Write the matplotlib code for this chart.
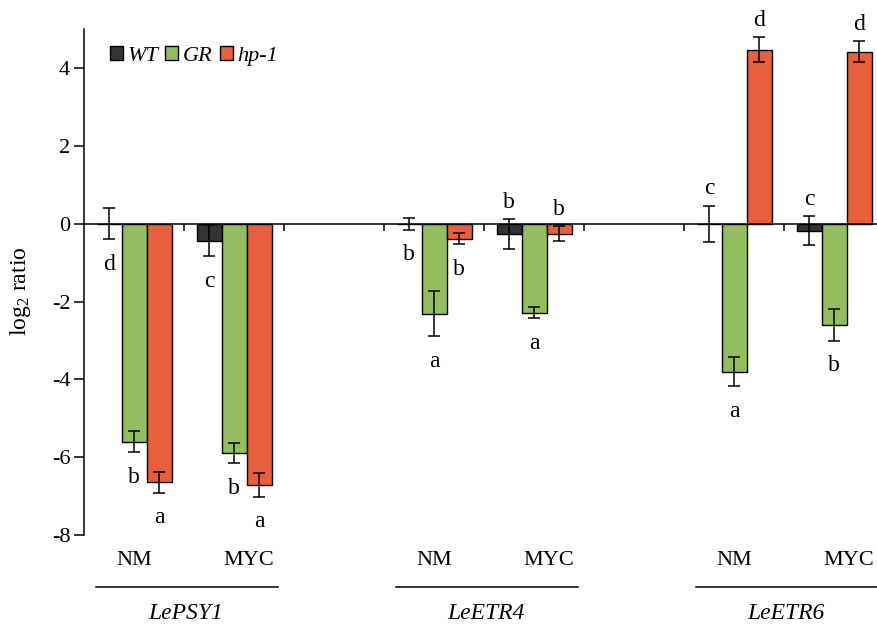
import matplotlib
matplotlib.use('Agg')
import matplotlib.pyplot as plt
import numpy as np

plt.rcParams['font.family'] = ['Liberation Serif', 'DejaVu Serif']
plt.rcParams['mathtext.fontset'] = 'custom'
plt.rcParams['mathtext.rm'] = 'Liberation Serif'
plt.rcParams['mathtext.it'] = 'Liberation Serif:italic'
plt.rcParams['axes.unicode_minus'] = False

# one slot per gene/treatment pair, empty slots separate the genes
genes = ['LePSY1', 'LeETR4', 'LeETR6']
treatments = ['NM', 'MYC']
genotypes = ['WT', 'GR', 'hp-1']

# log2 ratios, cols = LePSY1 NM/MYC, LeETR4 NM/MYC, LeETR6 NM/MYC
wt_mean = [0.0, -0.44, 0.0, -0.26, 0.0, -0.18]
gr_mean = [-5.6, -5.89, -2.31, -2.29, -3.8, -2.6]
hp1_mean = [-6.64, -6.71, -0.38, -0.25, 4.47, 4.42]

wt_err = [0.40, 0.40, 0.15, 0.38, 0.47, 0.37]
gr_err = [0.27, 0.26, 0.58, 0.14, 0.37, 0.40]
hp1_err = [0.27, 0.31, 0.15, 0.20, 0.32, 0.27]

wt_letters = ['d', 'c', 'b', 'b', 'c', 'c']
gr_letters = ['b', 'b', 'a', 'a', 'a', 'b']
hp1_letters = ['a', 'a', 'b', 'b', 'd', 'd']

# letter goes above the error bar (True) or below it (False)
wt_above = [False, False, False, True, True, True]
gr_above = [False, False, False, False, False, False]
hp1_above = [False, False, False, True, True, True]

colors = ['#333333', '#93bd5f', '#e85f3d']

slots = np.array([0.5, 1.5, 3.5, 4.5, 6.5, 7.5])
width = 0.25

fig = plt.figure(figsize=(8.77, 6.27), dpi=100)
ax = fig.add_axes([0.0958, 0.1467, 0.9042, 0.8066])

means = [wt_mean, gr_mean, hp1_mean]
errs = [wt_err, gr_err, hp1_err]
letters = [wt_letters, gr_letters, hp1_letters]
above = [wt_above, gr_above, hp1_above]

handles = []
for k in range(3):
    xs = slots + (k - 1) * width
    b = ax.bar(xs, means[k], width, color=colors[k], edgecolor='black', linewidth=1.0, zorder=2)
    handles.append(b)
    ax.errorbar(xs, means[k], yerr=errs[k], fmt='none', ecolor='black', elinewidth=1.1,
                capsize=4.5, capthick=1.1, zorder=3)
    for x, m, e, lab, up in zip(xs, means[k], errs[k], letters[k], above[k]):
        if up:
            ax.annotate(lab, (x, m + e), xytext=(0, 12), textcoords='offset points',
                        ha='center', va='center', fontsize=17)
        else:
            ax.annotate(lab, (x, m - e), xytext=(0, -18), textcoords='offset points',
                        ha='center', va='center', fontsize=17)

ax.set_xlim(0, 7.93)
ax.set_ylim(-8, 5)
ax.set_yticks([-8, -6, -4, -2, 0, 2, 4])
ax.tick_params(axis='y', direction='out', length=7, width=1.1, labelsize=16, pad=3)
ax.set_xticks([1, 2, 3, 4, 5, 6, 7])
ax.set_xticklabels([])
ax.tick_params(axis='x', direction='out', length=5, width=1.1)

ax.spines['bottom'].set_position(('data', 0))
ax.spines['top'].set_visible(False)
ax.spines['right'].set_visible(False)
for s in ['left', 'bottom']:
    ax.spines[s].set_linewidth(1.1)

ax.set_ylabel('log$_2$ ratio', fontsize=17)
ax.yaxis.set_label_coords(-0.064, 0.482)

# treatment labels, gene underline and gene names under the axis
trans = ax.get_xaxis_transform()
for i, g in enumerate(genes):
    nm_x = slots[2 * i]
    myc_x = slots[2 * i + 1] + 0.15
    ax.text(nm_x, -0.05, 'NM', transform=trans, ha='center', va='center', fontsize=16, clip_on=False)
    ax.text(myc_x, -0.05, 'MYC', transform=trans, ha='center', va='center', fontsize=16, clip_on=False)
    x0 = slots[2 * i] - 0.38
    x1 = min(slots[2 * i + 1] + 0.44, 7.95)
    ax.plot([x0, x1], [-0.103, -0.103], transform=trans, color='black', lw=1.1, clip_on=False)
    ax.text((slots[2 * i] + slots[2 * i + 1]) / 2 + 0.02, -0.155, g, transform=trans,
            ha='center', va='center', fontsize=17, style='italic', clip_on=False)

ax.legend(handles, genotypes, loc='upper left', bbox_to_anchor=(0.007, 1.006), ncol=3,
          frameon=False, handlelength=0.59, handleheight=0.59, handletextpad=0.22,
          columnspacing=0.3, prop={'style': 'italic', 'size': 16})

fig.savefig('out.png', dpi=100)
